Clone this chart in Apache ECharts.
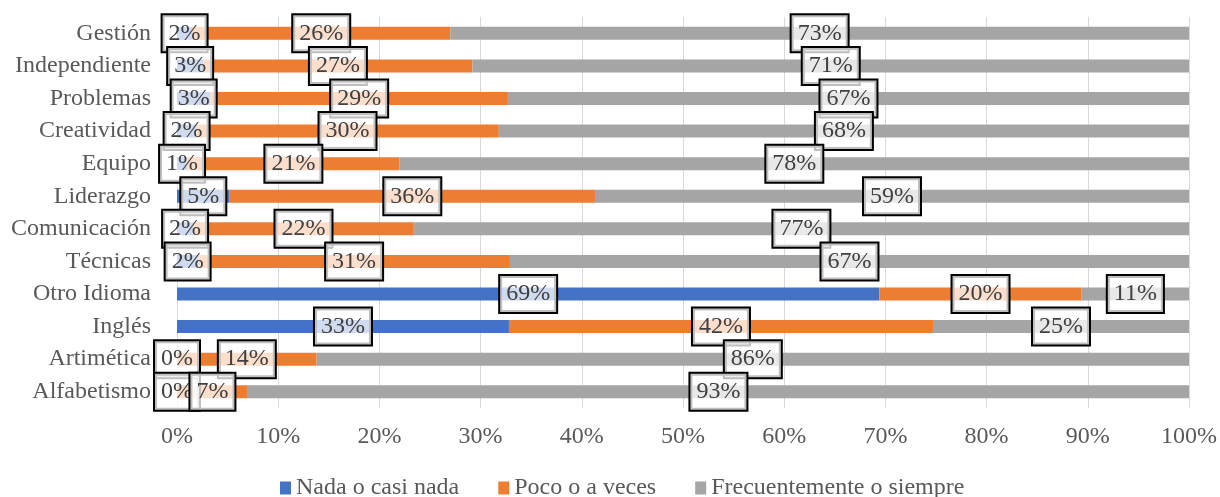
<!DOCTYPE html>
<html><head><meta charset="utf-8">
<script src="https://cdn.jsdelivr.net/npm/echarts@6/dist/echarts.min.js"></script>
<style>html,body{margin:0;padding:0;background:#fff}#c{width:1220px;height:497px}</style>
</head><body><div id="c"></div>
<script>
const categories = ['Gestión','Independiente','Problemas','Creatividad','Equipo','Liderazgo','Comunicación','Técnicas','Otro Idioma','Inglés','Artimética','Alfabetismo'];
const nada = [1.5, 2.6, 3.3, 1.9, 1.0, 5.2, 1.6, 2.1, 69.4, 32.8, 0, 0];
const poco = [25.5, 26.6, 29.4, 29.9, 21.0, 36.1, 21.8, 30.8, 20.0, 41.9, 13.8, 7.0];
const frecuente = [73.0, 70.8, 67.3, 68.2, 78.0, 58.7, 76.6, 67.1, 10.6, 25.3, 86.2, 93.0];
const seriesNames = ['Nada o casi nada','Poco o a veces','Frecuentemente o siempre'];

const FONT = 'Liberation Serif, Times New Roman, serif';
const colors = ['#4472C4','#ED7D31','#A5A5A5'];
const labelStyle = {
  show: true, position: 'inside',
  formatter: p => Math.round(p.value) + '%',
  fontFamily: FONT, fontSize: 24, color: '#404040',
  backgroundColor: 'rgba(255,255,255,0.75)',
  borderColor: '#000', borderWidth: 2, padding: [6, 6]
};
const chart = echarts.init(document.getElementById('c'));
chart.setOption({
  animation: false,
  color: colors,
  grid: { left: 177, right: 29, top: 17, bottom: 89, containLabel: false },
  xAxis: {
    type: 'value', min: 0, max: 100, interval: 10,
    axisLabel: { formatter: v => v + '%', fontFamily: FONT, fontSize: 24, color: '#595959', margin: 17 },
    axisLine: { show: false }, axisTick: { show: false },
    splitLine: { show: true, lineStyle: { color: '#D9D9D9', width: 1 } }
  },
  yAxis: {
    type: 'category', data: categories, inverse: true,
    axisLabel: { fontFamily: FONT, fontSize: 24, color: '#595959', margin: 26 },
    axisLine: { show: false }, axisTick: { show: false }
  },
  legend: {
    top: 471, left: 275, itemWidth: 11, itemHeight: 13, itemGap: 39,
    icon: 'rect',
    textStyle: { fontFamily: FONT, fontSize: 24, color: '#595959' },
    data: seriesNames
  },
  series: [nada, poco, frecuente].map((d, i) => ({
    name: seriesNames[i], type: 'bar', stack: 'total', barWidth: 13,
    data: d, label: labelStyle, itemStyle: { color: colors[i] }
  }))
});
</script></body></html>
